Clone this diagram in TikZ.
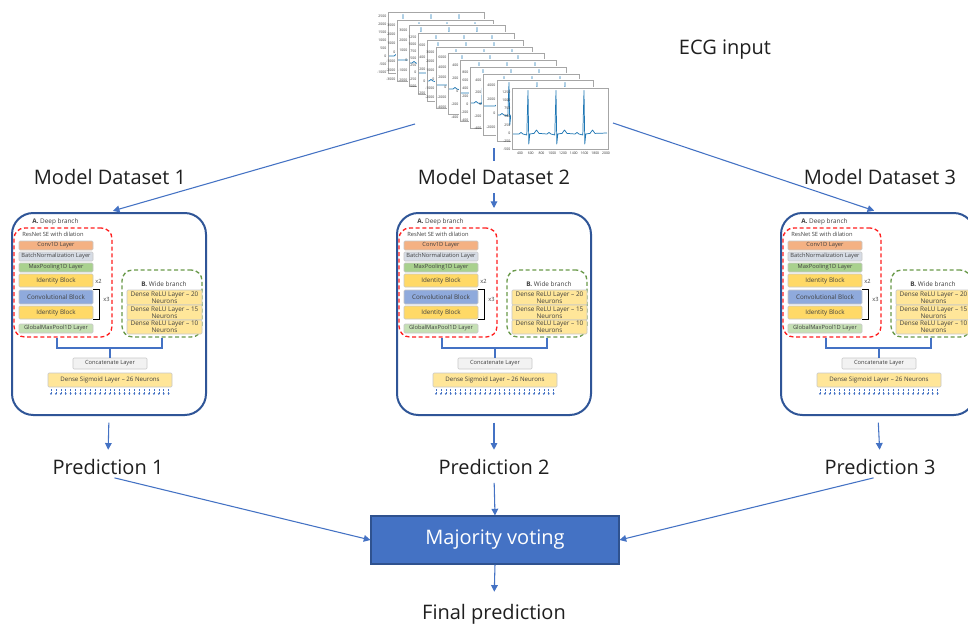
\documentclass[tikz,border=0pt]{standalone}
\usepackage{fontspec}
\setmainfont{Open Sans}
\usetikzlibrary{arrows.meta,fit}

\definecolor{linkblue}{HTML}{4472C4}
\definecolor{frameblue}{HTML}{2F5597}
\definecolor{voteedge}{HTML}{2F528F}
\definecolor{dashred}{HTML}{FF2020}
\definecolor{dashgreen}{HTML}{6A9A4A}
\definecolor{convc}{HTML}{F4B183}
\definecolor{bnc}{HTML}{D6DCE5}
\definecolor{mpc}{HTML}{A9D18E}
\definecolor{idc}{HTML}{FFD966}
\definecolor{cbc}{HTML}{8FAADC}
\definecolor{gmpc}{HTML}{C5E0B4}
\definecolor{densec}{HTML}{FFE699}
\definecolor{catc}{HTML}{F2F2F2}
\definecolor{laybord}{HTML}{C8C8C8}
\definecolor{laytxt}{HTML}{404040}
\definecolor{ecgline}{HTML}{1F77B4}
\definecolor{axgray}{HTML}{A6A6A6}

\tikzset{
  lbl/.style={font=\fontsize{15}{18}\selectfont, text=black!88, inner sep=1pt},
  link/.style={draw=linkblue, line width=0.8pt, -{Triangle[width=5pt,length=5pt]}},
  modelframe/.style={draw=frameblue, line width=1.5pt, rounded corners=16pt, inner sep=0pt},
  layer/.style={draw=laybord, line width=0.4pt, rounded corners=0.8pt, inner sep=0pt},
  laytext/.style={font=\fontsize{4.3}{5.2}\selectfont, text=laytxt, inner sep=0pt, align=center},
  subhead/.style={font=\fontsize{4.8}{5.5}\selectfont, text=laytxt, inner sep=0pt},
  reddash/.style={draw=dashred, line width=1pt, dash pattern=on 3pt off 2pt, rounded corners=8pt, inner sep=0pt},
  greendash/.style={draw=dashgreen, line width=1pt, dash pattern=on 3pt off 2pt, rounded corners=8pt, inner sep=0pt},
  branchline/.style={draw=linkblue, line width=1.6pt},
  bracketline/.style={draw=black, line width=0.9pt},
  tinyarr/.style={draw=linkblue, line width=0.35pt, dash pattern=on 0.5pt off 0.5pt, -{Triangle[width=1.5pt,length=1.3pt]}},
  tick/.style={font=\fontsize{2.6}{3}\selectfont, text=black!80, inner sep=0.3pt},
  ecg/.style={draw=ecgline, line width=0.55pt, line join=round},
}

% one coloured layer of the network: name, corners, fill, text
\newcommand\laybox[7]{%
  \node[layer, fill=#6, fit={(#2,#3)(#4,#5)}] (#1) {};
  \node[laytext] at (#1.center) {#7};}

% one matplotlib figure of the ECG stack: axes corner, first R peak, y ticks, baseline
\newcommand\ecgfig[5]{%
  \fill[white] (#1-1.5,#2-1) rectangle (#1+99,#2+70);
  \draw[axgray, line width=0.45pt] (#1,#2) rectangle (#1+96,#2+61);
  \foreach \lab/\f in {#4} \node[tick, anchor=east] at (#1-1,#2+\f) {\lab};
  \draw[ecg] (#1+1,#2+#5)
    \foreach \b in {#3,#3+28,#3+56} {
      -- (#1+\b-9,#2+#5) -- (#1+\b-7,#2+#5-1.5) -- (#1+\b-5,#2+#5)
      -- (#1+\b-1.2,#2+#5+1) -- (#1+\b,#2+2.5) -- (#1+\b+0.8,#2+#5+10)
      -- (#1+\b+1.8,#2+#5) -- (#1+\b+6,#2+#5-0.6) -- (#1+\b+8.5,#2+#5-4)
      -- (#1+\b+11,#2+#5-0.6) }
    -- (#1+95,#2+#5-1);
}

% one trained model: wide-and-deep network inside a rounded frame
\newcommand\modelbox[2]{%
\begin{scope}[shift={(#1,0)}]
  \node[modelframe, fit={(0,213)(194,415)}] (box#2) {};
  \node[subhead, anchor=west] (deep#2) at (20,222) {\textbf{A.} Deep branch};
  \node[reddash, fit={(2,228)(100,337)}] (red#2) {};
  \node[laytext, anchor=west] (resn#2) at (10,234) {ResNet SE with dilation};
  \laybox{conv#2}{7}{241}{81}{250}{convc}{Conv1D Layer}
  \laybox{bn#2}{7}{252}{81}{261}{bnc}{BatchNormalization Layer}
  \laybox{mp#2}{7}{263}{81}{272}{mpc}{MaxPooling1D Layer}
  \laybox{ida#2}{7}{274}{81}{287}{idc}{\fontsize{4.7}{5.5}\selectfont Identity Block}
  \laybox{cb#2}{7}{290}{81}{304}{cbc}{\fontsize{4.7}{5.5}\selectfont Convolutional Block}
  \laybox{idb#2}{7}{306}{81}{319}{idc}{\fontsize{4.7}{5.5}\selectfont Identity Block}
  \laybox{gmp#2}{7}{324}{81}{333}{gmpc}{GlobalMaxPool1D Layer}
  \node[laytext, anchor=west] (xa#2) at (83,281) {x2};
  \draw[bracketline] (cb#2.north east) -- ++(6,0) |- (idb#2.south east);
  \node[laytext, anchor=west] (xb#2) at (91,299) {x3};
  \node[greendash, fit={(110,270)(190,337)}] (green#2) {};
  \node[subhead] (wide#2) at (152,284) {\textbf{B.} Wide branch};
  \laybox{da#2}{115}{290}{190}{305}{densec}{\fontsize{4.8}{5.6}\selectfont Dense ReLU Layer – 20\\\fontsize{4.8}{5.6}\selectfont Neurons}
  \laybox{db#2}{115}{305}{190}{320}{densec}{\fontsize{4.8}{5.6}\selectfont Dense ReLU Layer – 15\\\fontsize{4.8}{5.6}\selectfont Neurons}
  \laybox{dc#2}{115}{320}{190}{334}{densec}{\fontsize{4.8}{5.6}\selectfont Dense ReLU Layer – 10\\\fontsize{4.8}{5.6}\selectfont Neurons}
  \draw[branchline] ([xshift=-4.5pt]red#2.south) -- ++(0,10) -| (green#2.south);
  \laybox{cat#2}{61}{358}{135}{369}{catc}{Concatenate Layer}
  \draw[branchline] (cat#2.north) -- ++(0,-11);
  \laybox{sig#2}{36}{373}{160}{387}{densec}{\fontsize{4.6}{5.5}\selectfont Dense Sigmoid Layer – 26 Neurons}
  \foreach \k in {0,...,24} \draw[tinyarr] (39+\k*4.9,389) -- ++(0,6);
\end{scope}}

\begin{document}
\begin{tikzpicture}[x=0.75pt,y=-0.75pt]
\useasboundingbox (0,0) rectangle (968,628);
\clip (0,0) rectangle (968,628);
\fill[white] (0,0) rectangle (968,628);

% stack of ECG recordings
\ecgfig{388}{12}{15}{2500/4,2000/12,1500/20,1000/28,500/36,0/44,-500/52,-1000/60}{44}
\ecgfig{397}{20}{22}{3000/5,2000/14,1000/23,0/32,-1000/41,-2000/50,-3000/59}{40}
\ecgfig{409}{25}{12}{3000/5,2000/15,1000/25,0/35,-1000/45,-2000/55}{38}
\ecgfig{418}{33}{18}{1250/4,1000/11,750/18,500/25,250/32,0/39,-250/46,-500/53}{40}
\ecgfig{427}{40}{11}{600/5,400/17,200/29,0/41,-200/53}{41}
\ecgfig{436}{47}{20}{3000/5,2000/14,1000/23,0/32,-1000/41,-2000/50}{38}
\ecgfig{448}{53}{14}{6000/4,4000/14,2000/24,0/34,-2000/44,-4000/54}{36}
\ecgfig{460}{60}{19}{400/5,200/18,0/31,-200/44,-400/57}{33}
\ecgfig{470}{67}{13}{800/5,600/13,400/21,200/29,0/37,-200/45,-400/53}{36}
\ecgfig{483}{74}{21}{400/6,200/18,0/30,-200/42,-400/54}{32}
\ecgfig{497}{80}{12}{4000/5,2000/19,0/33,-2000/47}{35}
\ecgfig{512}{88}{16}{1250/4,1000/12.2,750/20.4,500/28.6,250/36.8,0/45,-250/53.2,-500/61.4}{46}
\foreach \lab [count=\k] in {400,600,800,1000,1200,1400,1600,1800,2000}
  \node[tick] at (520+10.75*\k-10.75,153) {\lab};

\coordinate (ecgL) at (415,124);
\coordinate (ecgM) at (494,148);
\coordinate (ecgR) at (613,123);
\node[lbl] (ecgin) at (725,50) {ECG input};

% the three models
\modelbox{12}{1}
\modelbox{397}{2}
\modelbox{781}{3}

% data flow into the models
\draw[link, shorten >=3pt] (ecgL) -- (box1.north);
\draw[link, shorten >=3pt] (ecgM) -- (box2.north);
\draw[link, shorten >=3pt] (ecgR) -- (box3.north);
\node[lbl] (md1) at (110,177) {Model Dataset 1};
\node[lbl, fill=white, inner ysep=6pt] (md2) at (494,177) {Model Dataset 2};
\node[lbl] (md3) at (880,177) {Model Dataset 3};

% predictions and voting
\node[lbl] (pred1) at (108,467) {Prediction 1};
\node[lbl] (pred2) at (494,467) {Prediction 2};
\node[lbl] (pred3) at (880,467) {Prediction 3};
\node[fill=linkblue, draw=voteedge, line width=0.8pt, minimum width=186pt, minimum height=36pt,
      font=\fontsize{15}{18}\selectfont, text=white] (vote) at (495,540) {Majority voting};
\node[lbl] (final) at (494,614) {Final prediction};

\draw[link, shorten <=5pt, shorten >=6pt] (box1.south) -- (pred1.north);
\draw[link, shorten <=5pt, shorten >=6pt] (box2.south) -- (pred2.north);
\draw[link, shorten <=5pt, shorten >=6pt] (box3.south) -- (pred3.north);
\draw[link, shorten <=5pt] (pred1.south) -- (vote.west);
\draw[link, shorten <=5pt] (pred2.south) -- (vote.north);
\draw[link, shorten <=5pt] (pred3.south) -- (vote.east);
\draw[link, shorten >=8pt] (vote.south) -- (final.north);
\end{tikzpicture}
\end{document}
